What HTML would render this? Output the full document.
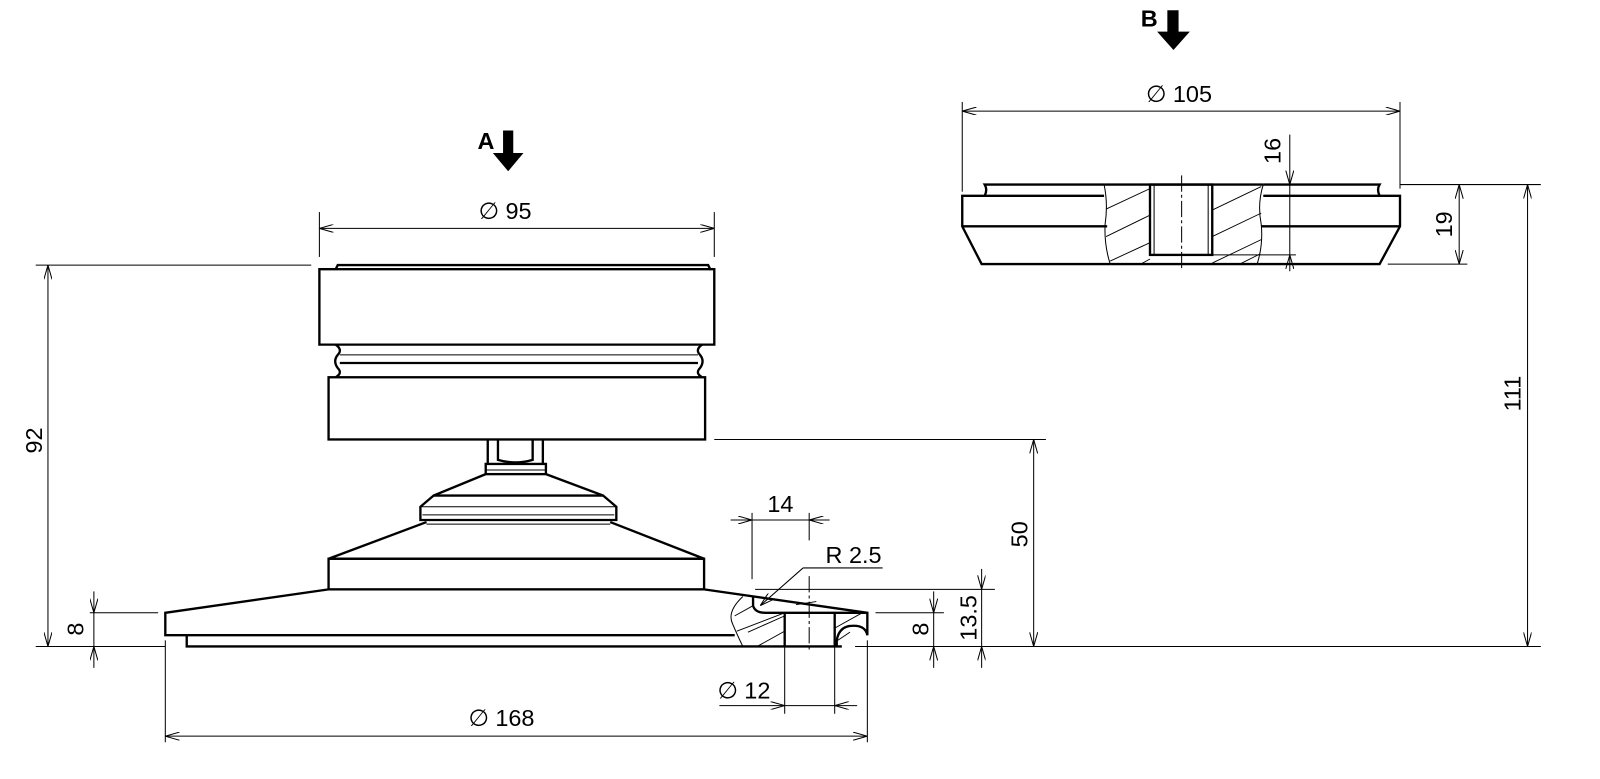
<!DOCTYPE html>
<html><head><meta charset="utf-8"><style>
html,body{margin:0;padding:0;background:#fff;}
svg{display:block}
text{font-family:"Liberation Sans","DejaVu Sans",sans-serif;font-size:23px;fill:#000}
.b{fill:none;stroke:#000;stroke-width:2.3}
.t{fill:none;stroke:#000;stroke-width:1}
.h{fill:none;stroke:#000;stroke-width:0.9}
</style></head><body>
<svg width="1600" height="779" viewBox="0 0 1568 764" preserveAspectRatio="none" xmlns="http://www.w3.org/2000/svg">
<defs>
<marker id="a" viewBox="0 0 14 8" refX="14" refY="4" markerWidth="14" markerHeight="8" orient="auto-start-reverse" markerUnits="userSpaceOnUse"><path d="M0,0 L14,4 L0,8" fill="none" stroke="#000" stroke-width="1"/></marker>
</defs>

<path class="b" d="M313,264 L329,264 L331,260 L694,260 L696,264 L700,264 L700,338 L313,338 Z"/>
<line class="b" x1="329" y1="264" x2="696" y2="264"/>
<path class="b" d="M329,338 Q336,343 331,348 Q326,354 331,361 Q336,366 329,370"/>
<path class="b" d="M688,338 Q681,343 686,348 Q691,354 686,361 Q681,366 688,370"/>
<line class="t" x1="333" y1="348" x2="684" y2="348"/>
<line class="b" x1="333" y1="356" x2="684" y2="356"/>
<rect class="b" x="322" y="370" width="369" height="61"/>
<path class="b" d="M478,431 L478,455 M532,431 L532,455"/>
<path class="b" d="M488,431 L488,451 Q505,456 522,451 L522,431"/>
<rect class="b" x="476" y="455" width="59" height="10"/>
<line class="t" x1="476" y1="461" x2="535" y2="461"/>
<path class="b" d="M476,465 L425,486 L412,497 L412,510 L604,510 L604,497 L591,486 L535,465"/>
<line class="b" x1="425" y1="486" x2="591" y2="486"/>
<line class="t" x1="412" y1="497" x2="604" y2="497"/>
<line class="t" x1="414" y1="505" x2="602" y2="505"/>
<line class="t" x1="418" y1="514" x2="598" y2="514"/>
<path class="b" d="M418,512 L322,548 L690,548 L598,512"/>
<rect class="b" x="322" y="548" width="368" height="30"/>
<path class="b" d="M322,578 L162,601 L162,623 L720,623"/>
<path class="b" d="M183,623 L183,634 L825,634"/>
<path class="b" d="M690,578 L850,601 L850,623 Q848,612 832,614 Q822,616 820,628 L820,634"/>
<path class="t" d="M728,585 Q712,600 718,612 Q724,626 728,634"/>
<path class="b" d="M738,585 L738,594 Q740,601 750,601 L850,601"/>
<line class="b" x1="769" y1="601" x2="769" y2="634"/>
<line class="b" x1="818" y1="601" x2="818" y2="634"/>
<path class="h" d="M720,604 L738,594 M722,619 L769,601 M742,634 L769,619 M733,620 L769,604 M818,616 L845,601 M818,630 L833,620 M780,593 L800,590"/>
<line class="t" x1="793" y1="565" x2="793" y2="640" stroke-dasharray="16,3,3,3"/>

<text x="468" y="146" font-weight="bold" font-size="21">A</text>
<path d="M493,128 L503,128 L503,150 L513,150 L498,168 L483,150 L493,150 Z" fill="#000"/>

<line class="t" x1="313" y1="208" x2="313" y2="252"/>
<line class="t" x1="700" y1="208" x2="700" y2="252"/>
<line class="t" x1="313" y1="224" x2="700" y2="224" marker-start="url(#a)" marker-end="url(#a)"/>
<text x="469" y="215">∅ 95</text>

<line class="t" x1="35" y1="260" x2="305" y2="260"/>
<line class="t" x1="35" y1="634" x2="162" y2="634"/>
<line class="t" x1="47" y1="260" x2="47" y2="634" marker-start="url(#a)" marker-end="url(#a)"/>
<text transform="translate(41,432) rotate(-90)" text-anchor="middle">92</text>

<line class="t" x1="88" y1="601" x2="155" y2="601"/>
<line class="t" x1="92" y1="580" x2="92" y2="601" marker-end="url(#a)"/>
<line class="t" x1="92" y1="655" x2="92" y2="634" marker-end="url(#a)"/>
<line class="t" x1="92" y1="601" x2="92" y2="634"/>
<text transform="translate(82,617) rotate(-90)" text-anchor="middle">8</text>

<line class="t" x1="162" y1="628" x2="162" y2="728"/>
<line class="t" x1="850" y1="628" x2="850" y2="728"/>
<line class="t" x1="162" y1="722" x2="850" y2="722" marker-start="url(#a)" marker-end="url(#a)"/>
<text x="459" y="712">∅ 168</text>

<line class="t" x1="769" y1="634" x2="769" y2="700"/>
<line class="t" x1="818" y1="634" x2="818" y2="700"/>
<line class="t" x1="705" y1="692" x2="769" y2="692" marker-end="url(#a)"/>
<line class="t" x1="840" y1="692" x2="818" y2="692" marker-end="url(#a)"/>
<line class="t" x1="769" y1="692" x2="818" y2="692"/>
<text x="703" y="685">∅ 12</text>

<line class="t" x1="737" y1="503" x2="737" y2="568"/>
<line class="t" x1="793" y1="503" x2="793" y2="530"/>
<line class="t" x1="716" y1="510" x2="737" y2="510" marker-end="url(#a)"/>
<line class="t" x1="813" y1="510" x2="793" y2="510" marker-end="url(#a)"/>
<line class="t" x1="737" y1="510" x2="793" y2="510"/>
<text x="752" y="502">14</text>

<text x="809" y="552">R 2.5</text>
<path class="t" d="M865,557 L787,557"/>
<line class="t" x1="787" y1="557" x2="745" y2="594" marker-end="url(#a)"/>

<line class="t" x1="858" y1="601" x2="925" y2="601"/>
<line class="t" x1="915" y1="580" x2="915" y2="601" marker-end="url(#a)"/>
<line class="t" x1="915" y1="655" x2="915" y2="634" marker-end="url(#a)"/>
<line class="t" x1="915" y1="601" x2="915" y2="634"/>
<text transform="translate(910,617) rotate(-90)" text-anchor="middle">8</text>

<line class="t" x1="740" y1="578" x2="975" y2="578"/>
<line class="t" x1="962" y1="558" x2="962" y2="578" marker-end="url(#a)"/>
<line class="t" x1="962" y1="655" x2="962" y2="634" marker-end="url(#a)"/>
<line class="t" x1="962" y1="578" x2="962" y2="634"/>
<text transform="translate(957,606) rotate(-90)" text-anchor="middle">13.5</text>

<line class="t" x1="838" y1="634" x2="1510" y2="634"/>
<line class="t" x1="700" y1="431" x2="1025" y2="431"/>
<line class="t" x1="1013" y1="431" x2="1013" y2="634" marker-start="url(#a)" marker-end="url(#a)"/>
<text transform="translate(1007,524) rotate(-90)" text-anchor="middle">50</text>

<line class="t" x1="1372" y1="181" x2="1510" y2="181"/>
<line class="t" x1="1497" y1="181" x2="1497" y2="634" marker-start="url(#a)" marker-end="url(#a)"/>
<text transform="translate(1490,386) rotate(-90)" text-anchor="middle">111</text>

<text x="1118" y="26" font-weight="bold" font-size="21">B</text>
<path d="M1144,10 L1155,10 L1155,31 L1166,31 L1150,49 L1134,31 L1144,31 Z" fill="#000"/>

<line class="t" x1="943" y1="100" x2="943" y2="188"/>
<line class="t" x1="1372" y1="100" x2="1372" y2="185"/>
<line class="t" x1="943" y1="109" x2="1372" y2="109" marker-start="url(#a)" marker-end="url(#a)"/>
<text x="1123" y="100">∅ 105</text>

<path class="b" d="M1082,181 L965,181 Q968,186 965,192 L943,192 L943,222 L962,259 L1088,259"/>
<line class="b" x1="965" y1="192" x2="1082" y2="192"/>
<line class="b" x1="943" y1="222" x2="1085" y2="222"/>
<path class="b" d="M1238,181 L1352,181 Q1349,186 1352,192 L1372,192 L1372,222 L1352,259 L1232,259"/>
<line class="b" x1="1238" y1="192" x2="1352" y2="192"/>
<line class="b" x1="1236" y1="222" x2="1372" y2="222"/>
<line class="b" x1="1082" y1="181" x2="1238" y2="181"/>
<line class="b" x1="1088" y1="259" x2="1232" y2="259"/>
<path class="t" d="M1082,181 Q1086,200 1083,220 Q1082,240 1088,259"/>
<path class="t" d="M1238,181 Q1232,200 1236,220 Q1238,240 1232,259"/>
<rect class="b" x="1127" y="181" width="61" height="69"/>
<line class="t" x1="1131" y1="181" x2="1131" y2="250"/>
<line class="t" x1="1184" y1="181" x2="1184" y2="250"/>
<line class="t" x1="1188" y1="250" x2="1270" y2="250"/>
<path class="h" d="M1084,205 L1127,185 M1084,232 L1127,211 M1088,256 L1127,238 M1118,259 L1127,254 M1188,206 L1236,183 M1188,232 L1236,209 M1188,258 L1236,235 M1215,259 L1235,249"/>
<line class="t" x1="1158" y1="172" x2="1158" y2="266" stroke-dasharray="16,3,3,3"/>

<line class="t" x1="1264" y1="132" x2="1264" y2="181" marker-end="url(#a)"/>
<line class="t" x1="1264" y1="181" x2="1264" y2="250"/>
<line class="t" x1="1264" y1="266" x2="1264" y2="250" marker-end="url(#a)"/>
<text transform="translate(1255,148) rotate(-90)" text-anchor="middle">16</text>

<line class="t" x1="1360" y1="259" x2="1438" y2="259"/>
<line class="t" x1="1430" y1="181" x2="1430" y2="259" marker-start="url(#a)" marker-end="url(#a)"/>
<text transform="translate(1423,220) rotate(-90)" text-anchor="middle">19</text>
</svg>
</body></html>
